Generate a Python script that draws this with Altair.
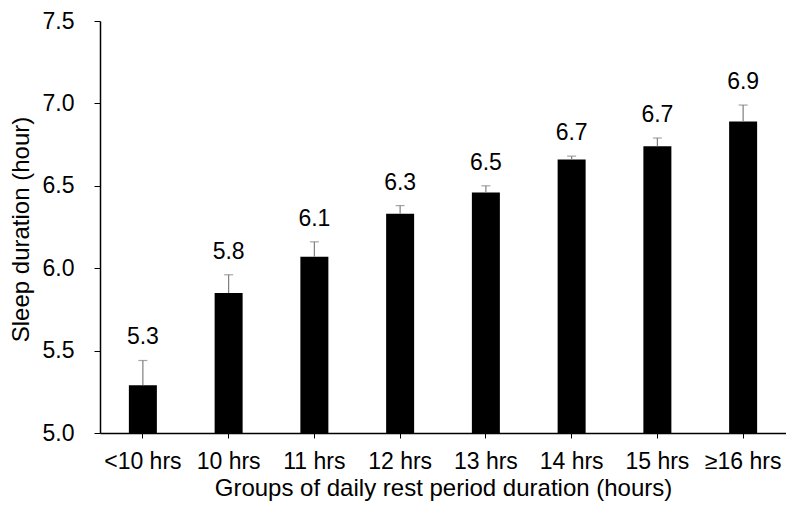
import altair as alt
import pandas as pd

categories = ["<10 hrs", "10 hrs", "11 hrs", "12 hrs", "13 hrs", "14 hrs", "15 hrs", "≥16 hrs"]
means = [5.29, 5.85, 6.07, 6.33, 6.46, 6.66, 6.74, 6.89]
err_upper = [5.44, 5.96, 6.16, 6.38, 6.50, 6.68, 6.79, 6.99]
labels = ["5.3", "5.8", "6.1", "6.3", "6.5", "6.7", "6.7", "6.9"]

df = pd.DataFrame({"group": categories, "mean": means, "upper": err_upper, "label": labels})

FONT = "Liberation Sans"

x = alt.X(
    "group:N",
    sort=categories,
    scale=alt.Scale(paddingInner=0.0, paddingOuter=0.0),
    axis=alt.Axis(
        title="Groups of daily rest period duration (hours)",
        labelAngle=0,
        labelFontSize=23,
        labelColor="#000000",
        labelFont=FONT,
        labelPadding=12,
        tickSize=5,
        tickColor="#000000",
        domainColor="#000000",
        domainWidth=1.5,
        titleFont=FONT,
        titleFontSize=24,
        titleFontWeight="normal",
        titleColor="#000000",
        titleBaseline="alphabetic",
        titleY=62,
        grid=False,
    ),
)

y_scale = alt.Scale(domain=[5.0, 7.5], zero=False, nice=False)
y_axis = alt.Axis(
    title="Sleep duration (hour)",
    values=[5.0, 5.5, 6.0, 6.5, 7.0, 7.5],
    format=".1f",
    labelFontSize=23,
    labelFont=FONT,
    labelColor="#000000",
    labelPadding=20,
    tickSize=6,
    tickColor="#000000",
    domainColor="#000000",
    domainWidth=1.5,
    titleFont=FONT,
    titleFontSize=24,
    titleFontWeight="normal",
    titleColor="#000000",
    titleBaseline="alphabetic",
    titleX=-72,
    titleY=208,
    grid=False,
)

base = alt.Chart(df)

bars = base.mark_bar(color="#000000", size=28).encode(
    x=x,
    y=alt.Y("mean:Q", scale=y_scale, axis=y_axis),
    y2=alt.datum(5.0),
)

err = base.mark_rule(color="#7f7f7f", strokeWidth=1.2).encode(
    x=alt.X("group:N", sort=categories),
    y=alt.Y("mean:Q", scale=y_scale),
    y2="upper:Q",
)

caps = base.mark_tick(color="#7f7f7f", size=9, thickness=1.2, orient="horizontal").encode(
    x=alt.X("group:N", sort=categories),
    y=alt.Y("upper:Q", scale=y_scale),
)

text = base.mark_text(
    font=FONT, fontSize=23, color="#000000", baseline="alphabetic", dy=-16
).encode(
    x=alt.X("group:N", sort=categories),
    y=alt.Y("upper:Q", scale=y_scale),
    text="label:N",
)

chart = (
    alt.layer(bars, err, caps, text)
    .properties(
        width=686,
        height=412,
        padding={"left": 92, "top": 13, "right": 0, "bottom": 70},
        autosize=alt.AutoSizeParams(type="none"),
        background="#ffffff",
    )
    .configure_view(stroke=None)
)

chart.save("out.html", embed_options={"renderer": "svg", "actions": False})
